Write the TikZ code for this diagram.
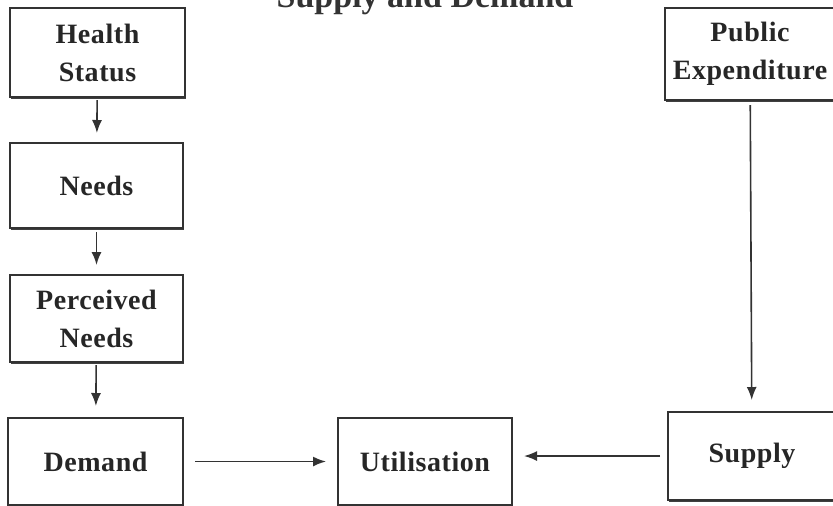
\documentclass[tikz,border=0pt]{standalone}
\usepackage{fontspec}
\setmainfont{Liberation Serif}
\usetikzlibrary{arrows.meta,shadows}

\begin{document}
\begin{tikzpicture}[x=0.5pt,y=-0.5pt]
\tikzset{ >={Latex[length=6.5pt,width=5pt]}, inner sep=0pt, outer sep=0pt,
  box/.style={draw=black!80, line width=0.8pt, fill=white, align=center,
    text=black!85, font=\fontsize{14}{19}\selectfont\bfseries\addfontfeature{LetterSpace=2}},
  shbox/.style={box, drop shadow={shadow xshift=0.7pt, shadow yshift=-0.8pt, fill=black!75, opacity=1}},
  flow/.style={->, draw=black!80, line width=0.8pt},
}

\clip (0,0) rectangle (833,505);

% cut title
\node [font=\fontsize{17}{20}\selectfont\bfseries, text=black!80, anchor=base] (title) at (425,7) {Supply and Demand};

% left column
\node [shbox, minimum width=87.5pt, minimum height=44.5pt] (HS) at (97.5,52.5) {Health\\Status};
\node [shbox, minimum width=86.5pt, minimum height=42.5pt] (N)  at (96.5,185.5) {Needs};
\node [shbox, minimum width=86.5pt, minimum height=43.5pt] (PN) at (96.5,318.5) {Perceived\\Needs};
\node [box,   minimum width=87.5pt, minimum height=43.5pt] (D)  at (95.5,461.5) {Demand};

% bottom row
\node [box,   minimum width=87pt, minimum height=43.5pt] (U)  at (425,461.5) {Utilisation};
\node [shbox, minimum width=84pt, minimum height=44pt]   (S)  at (752,456) {Supply};

% right column
\node [shbox, minimum width=85pt, minimum height=46pt]   (PE) at (750,54) {Public\\Expenditure};

% arrows
\draw [flow, shorten <=1.5pt, shorten >=5pt] (HS) -- (N);
\draw [flow, shorten <=2pt,   shorten >=5pt] (N) -- (PN);
\draw [flow, shorten <=1.5pt, shorten >=6pt] (PN) -- (D);
\draw [flow, shorten <=6pt,   shorten >=6pt] (D) -- (U);
\draw [flow, shorten <=4pt,   shorten >=6pt] (S.west) -- (U.east |- S.west);
\draw [flow, shorten <=2.5pt, shorten >=6pt] (PE) -- (S);

\end{tikzpicture}
\end{document}
